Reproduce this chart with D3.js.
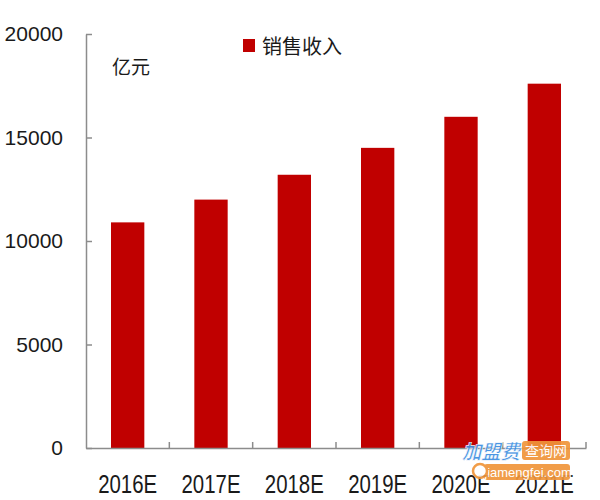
<!DOCTYPE html>
<html><head><meta charset="utf-8">
<script src="https://cdn.jsdelivr.net/npm/d3@7"></script>
<style>body{margin:0;background:#fff;}svg{display:block;}</style>
</head><body>
<script>
const categories = ["2016E","2017E","2018E","2019E","2020E","2021E"];
const salesRevenue = [10900, 12000, 13200, 14500, 16000, 17600];
const yTicks = [0, 5000, 10000, 15000, 20000];
const seriesName = "销售收入";
const unitLabel = "亿元";

const W = 600, H = 500;
const svg = d3.select("body").append("svg").attr("width", W).attr("height", H);

const x = d3.scaleBand().domain(categories).range([86, 586]).paddingInner(0.6).paddingOuter(0.3);
const y = d3.scaleLinear().domain([0, 20000]).range([448, 34]);

const axisColor = "#8c8c8c";

// bars
svg.append("g").selectAll("rect").data(categories).join("rect")
  .attr("x", d => x(d))
  .attr("width", x.bandwidth())
  .attr("y", (d, i) => y(salesRevenue[i]))
  .attr("height", (d, i) => y(0) - y(salesRevenue[i]))
  .attr("fill", "#c00000");

// y axis
const yAxis = svg.append("g").attr("transform", "translate(86,0)")
  .call(d3.axisLeft(y).tickValues(yTicks).tickFormat(d3.format("d")).tickSizeInner(-6).tickSizeOuter(0).tickPadding(23));
yAxis.select(".domain").attr("stroke", axisColor).attr("stroke-width", 1.5);
yAxis.selectAll(".tick line").attr("stroke", axisColor).attr("stroke-width", 1.5);
yAxis.selectAll("text").attr("font-family", "'Liberation Sans', Arial, sans-serif")
  .attr("font-size", 21).attr("fill", "#1a1a1a");

// x axis
const xAxis = svg.append("g").attr("transform", "translate(0,448)")
  .call(d3.axisBottom(x).tickSize(0).tickPadding(45));
xAxis.select(".domain").attr("stroke", axisColor).attr("stroke-width", 1.5);
xAxis.selectAll("text").attr("font-family", "'Liberation Sans', Arial, sans-serif")
  .attr("font-size", 25).attr("fill", "#1a1a1a").attr("dy", "0")
  .attr("textLength", 59).attr("lengthAdjust", "spacingAndGlyphs");
// boundary ticks pointing up
const step = x.step();
const bounds = d3.range(1, categories.length + 1).map(i => x.range()[0] + i * step);
svg.append("g").selectAll("line").data(bounds).join("line")
  .attr("x1", d => d).attr("x2", d => d)
  .attr("y1", 448).attr("y2", 442)
  .attr("stroke", axisColor).attr("stroke-width", 1.5);

// unit label
svg.append("text").attr("x", 112).attr("y", 74)
  .attr("font-family", "'Noto Sans CJK SC', sans-serif").attr("font-size", 19).attr("fill", "#1a1a1a")
  .text(unitLabel);

// legend
svg.append("rect").attr("x", 243).attr("y", 39).attr("width", 12).attr("height", 13).attr("fill", "#c00000");
svg.append("text").attr("x", 262).attr("y", 54)
  .attr("font-family", "'Noto Sans CJK SC', sans-serif").attr("font-size", 20).attr("fill", "#1a1a1a")
  .text(seriesName);

// watermark
const wm = svg.append("g").attr("opacity", 0.92);
wm.append("text").attr("x", 462).attr("y", 459)
  .attr("font-family", "'Noto Sans CJK SC', sans-serif").attr("font-weight", "bold").attr("font-style", "italic")
  .attr("font-size", 20).attr("fill", "#3c8de0").attr("stroke", "#fff").attr("stroke-width", 0.6)
  .attr("textLength", 58).attr("lengthAdjust", "spacingAndGlyphs").text("加盟费");
wm.append("rect").attr("x", 522).attr("y", 441).attr("width", 48).attr("height", 19).attr("rx", 3).attr("fill", "#f0953a");
wm.append("text").attr("x", 546).attr("y", 456).attr("text-anchor", "middle")
  .attr("font-family", "'Noto Sans CJK SC', sans-serif").attr("font-size", 14).attr("fill", "#fff").text("查询网");
wm.append("rect").attr("x", 484).attr("y", 464).attr("width", 86).attr("height", 16).attr("rx", 3).attr("fill", "#f0953a");
wm.append("text").attr("x", 528).attr("y", 477).attr("text-anchor", "middle")
  .attr("font-family", "'Liberation Sans', sans-serif").attr("font-size", 13).attr("fill", "#fff").text("jiamengfei.com");
wm.append("circle").attr("cx", 480).attr("cy", 471).attr("r", 7).attr("fill", "#fff").attr("stroke", "#f0953a").attr("stroke-width", 2.5);
</script>
</body></html>
